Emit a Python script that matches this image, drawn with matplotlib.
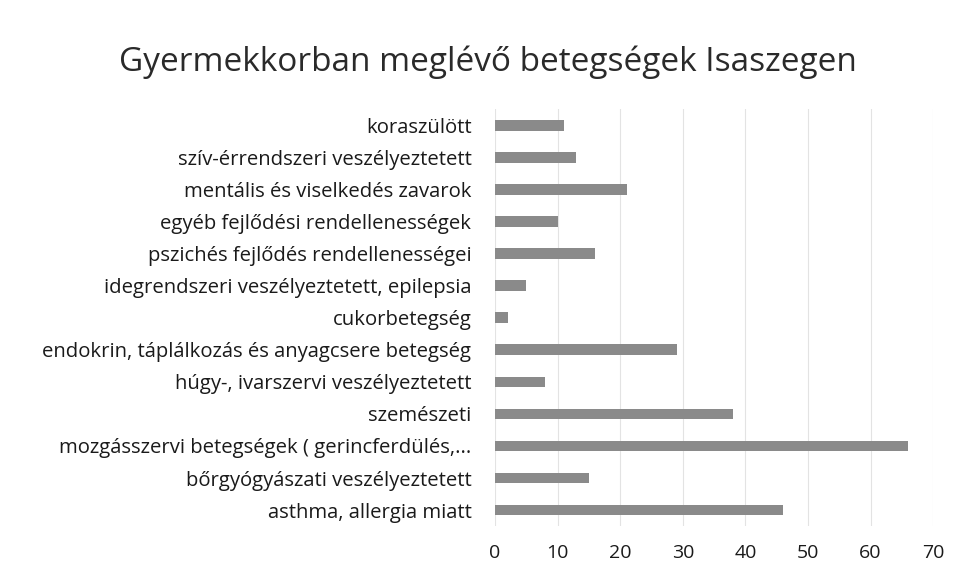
import matplotlib
matplotlib.use("Agg")
import matplotlib.pyplot as plt

categories = [
    "koraszülött",
    "szív-érrendszeri veszélyeztetett",
    "mentális és viselkedés zavarok",
    "egyéb fejlődési rendellenességek",
    "pszichés fejlődés rendellenességei",
    "idegrendszeri veszélyeztetett, epilepsia",
    "cukorbetegség",
    "endokrin, táplálkozás és anyagcsere betegség",
    "húgy-, ivarszervi veszélyeztetett",
    "szemészeti",
    "mozgásszervi betegségek ( gerincferdülés,...",
    "bőrgyógyászati veszélyeztetett",
    "asthma, allergia miatt",
]
values = [11, 13, 21, 10, 16, 5, 2, 29, 8, 38, 66, 15, 46]
xticks = [0, 10, 20, 30, 40, 50, 60, 70]

plt.rcParams['font.family'] = ['Open Sans', 'DejaVu Sans']

fig = plt.figure(figsize=(9.67, 5.84), dpi=100)
ax = fig.add_axes([0.512, 0.099, 0.453, 0.714])

ypos = list(range(len(categories)))[::-1]
ax.barh(ypos, values, height=0.33, color="#8a8a8a", zorder=3)
ax.set_yticks(ypos)
ax.set_yticklabels(categories, fontsize=14.6, color="#1a1a1a")
ax.set_xticks(xticks)
ax.set_xticklabels([str(t) for t in xticks], fontsize=14, color="#1a1a1a")
ax.set_xlim(0, 70)
ax.set_ylim(-0.5, len(categories) - 0.5)
ax.xaxis.grid(True, color="#e3e3e3", linewidth=0.8, zorder=0)
for s in ax.spines.values():
    s.set_visible(False)
ax.tick_params(axis='y', length=0, pad=17)
ax.tick_params(axis='x', length=0, pad=13)

fig.text(0.505, 0.893, "Gyermekkorban meglévő betegségek Isaszegen",
         ha="center", va="center", fontsize=24, color="#2a2a2a")

fig.savefig("out.png", dpi=100)
